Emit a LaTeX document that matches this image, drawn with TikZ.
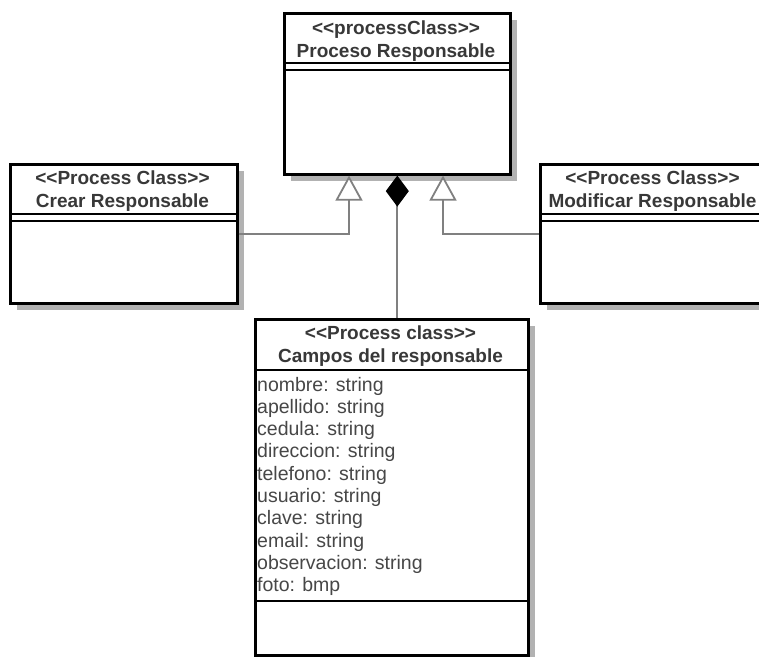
\documentclass[tikz,border=0pt]{standalone}
\usepackage{fontspec}
\setmainfont{Liberation Sans}
\usetikzlibrary{arrows.meta,shadows}
\begin{document}
\begin{tikzpicture}[x=1pt,y=-1pt,
  box/.style={draw=black, line width=2.6pt, fill=white, inner sep=0pt, anchor=north west,
    drop shadow={shadow xshift=7pt, shadow yshift=-7pt, fill=black!30, opacity=1}},
  sepline/.style={line width=2.4pt},
  hdr/.style={font=\bfseries\fontsize{19}{23}\selectfont, text=black!78, align=center, inner sep=0pt},
  attr/.style={font=\fontsize{19.5}{22}\selectfont, text=black!72, anchor=base west, inner sep=0pt},
  conn/.style={draw=black!50, line width=2pt},
  gen/.style={conn, -{Triangle[open, length=25pt, width=27pt, line width=1.8pt, fill=white]}},
  comp/.style={conn, -{Diamond[length=31pt, width=23pt, color=black, fill=black, line width=1pt]}}
]
\useasboundingbox (0,0) rectangle (759,656);
\clip (0,0) rectangle (759,656);

% boxes
\node[box, minimum width=226pt, minimum height=161pt] (top) at (283,12) {};
\node[box, minimum width=227pt, minimum height=139pt] (crear) at (9,163) {};
\node[box, minimum width=227pt, minimum height=139pt] (modif) at (539,163) {};
\node[box, minimum width=273pt, minimum height=336pt] (campos) at (254,318) {};

% dividers
\draw[sepline] (top.west |- 0,63) -- (top.east |- 0,63);
\draw[sepline] (top.west |- 0,70) -- (top.east |- 0,70);
\draw[sepline] (crear.west |- 0,214) -- (crear.east |- 0,214);
\draw[sepline] (crear.west |- 0,221) -- (crear.east |- 0,221);
\draw[sepline] (modif.west |- 0,214) -- (modif.east |- 0,214);
\draw[sepline] (modif.west |- 0,221) -- (modif.east |- 0,221);
\draw[sepline] (campos.west |- 0,370) -- (campos.east |- 0,370);
\draw[sepline] (campos.west |- 0,601) -- (campos.east |- 0,601);

% headers
\node[hdr] (toph) at (396,41) {<{}<processClass>{}>\\Proceso Responsable};
\node[hdr] (crearh) at (122.5,191) {<{}<Process Class>{}>\\Crear Responsable};
\node[hdr] (modifh) at (652.5,191) {<{}<Process Class>{}>\\Modificar Responsable};
\node[hdr] (camposh) at (390.5,346) {<{}<Process class>{}>\\Campos del responsable};

% attributes
\foreach \t [count=\i] in {nombre: string, apellido: string, cedula: string, direccion: string, telefono: string, usuario: string, clave: string, email: string, observacion: string, foto: bmp}
  \node[attr] (a\i) at (257,{391+22.3*(\i-1)}) {\t};

% connectors
\coordinate (g1) at (349,0);
\coordinate (g2) at (443,0);
\draw[gen] (crear.east) -| (top.south -| g1);
\draw[gen] (modif.west) -| (top.south -| g2);
\draw[comp] (campos.north -| top.south) -- (top.south);
\end{tikzpicture}
\end{document}
